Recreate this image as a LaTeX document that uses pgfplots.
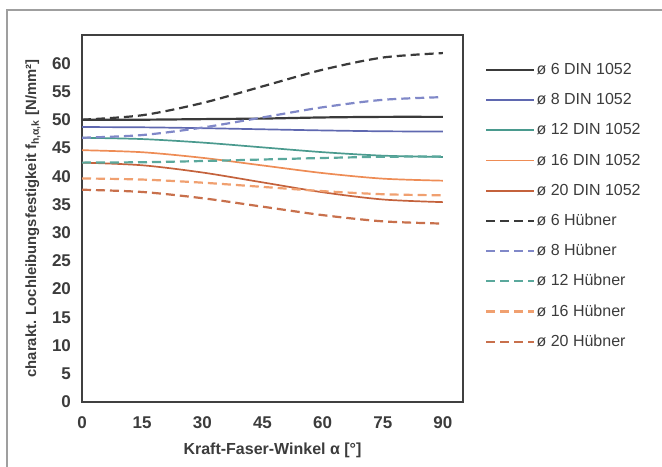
\documentclass[border=0pt]{standalone}
\usepackage{pgfplots}
\pgfplotsset{compat=1.18}
\usepackage{fontspec}
\setmainfont{Liberation Sans}
\definecolor{cblack}{HTML}{3A3A3A}
\definecolor{cblue}{HTML}{5F68B0}
\definecolor{cteal}{HTML}{4A9A8E}
\definecolor{corange}{HTML}{EE8C55}
\definecolor{cbrown}{HTML}{C4623C}
\definecolor{lblue}{HTML}{8088C8}
\definecolor{lteal}{HTML}{5AA89C}
\definecolor{lorange}{HTML}{F0A070}
\definecolor{lbrown}{HTML}{C8704C}
\definecolor{txt}{HTML}{3C3C3C}
\begin{document}
\begin{tikzpicture}
\useasboundingbox (0,0) rectangle (331pt,-233pt);
\draw[gray!75, line width=0.7pt] (3.5pt,-240pt) -- (3.5pt,-5pt) -- (340pt,-5pt);
\begin{axis}[
  at={(41pt,-201pt)}, anchor=south west,
  scale only axis, width=190.5pt, height=183.5pt,
  xmin=0, xmax=95, ymin=0, ymax=65,
  xtick={0,15,...,90}, ytick={0,5,...,60},
  major tick length=0pt,
  axis line style={draw=black!75, line width=1pt},
  tick label style={font=\fontsize{8.5}{9}\selectfont\bfseries, text=txt},
  xticklabel style={yshift=-4pt},
  yticklabel style={xshift=-2pt},
  /pgf/number format/assume math mode=true,
  xlabel={Kraft-Faser-Winkel α [°]},
  ylabel={charakt. Lochleibungsfestigkeit f\textsubscript{h,α,k} [N/mm²]},
  xlabel style={font=\fontsize{8}{9}\selectfont\bfseries, text=txt,
    at={(axis description cs:0.5,0)}, anchor=center, yshift=-24pt},
  ylabel style={font=\fontsize{7.4}{8}\selectfont\bfseries, text=txt,
    at={(axis description cs:0,0.5)}, anchor=center, yshift=24.5pt},
  legend cell align=left,
  legend style={draw=none, fill=none, at={(axis description cs:1,1)}, anchor=north west,
    xshift=10pt, yshift=-12pt, font=\fontsize{8}{9}\selectfont, text=txt,
    nodes={text height=6pt, text depth=1.5pt, inner sep=0.5pt},
    row sep=6.6pt, inner sep=1pt},
  legend image code/.code={\draw[#1] (0pt,0pt) -- (24pt,0pt);},
  every axis plot/.append style={smooth, no marks},
  sol/.style={line width=0.85pt},
  dsh/.style={line width=1.1pt, dash pattern=on 4.5pt off 2.5pt},
]
\addplot[cblack, sol, line width=1.1pt] coordinates {(0,50.0) (15,50.0) (30,50.1) (45,50.2) (60,50.4) (75,50.5) (90,50.5)};
\addlegendentry{ø 6 DIN 1052}
\addplot[cblue, sol] coordinates {(0,48.7) (15,48.65) (30,48.5) (45,48.3) (60,48.1) (75,47.95) (90,47.9)};
\addlegendentry{ø 8 DIN 1052}
\addplot[cteal, sol] coordinates {(0,46.8) (15,46.57) (30,45.95) (45,45.1) (60,44.25) (75,43.63) (90,43.4)};
\addlegendentry{ø 12 DIN 1052}
\addplot[corange, sol] coordinates {(0,44.6) (15,44.24) (30,43.25) (45,41.9) (60,40.55) (75,39.56) (90,39.2)};
\addlegendentry{ø 16 DIN 1052}
\addplot[cbrown, sol] coordinates {(0,42.4) (15,41.93) (30,40.65) (45,38.9) (60,37.15) (75,35.87) (90,35.4)};
\addlegendentry{ø 20 DIN 1052}
\addplot[cblack, dsh] coordinates {(0,50.0) (15,50.79) (30,52.95) (45,55.9) (60,58.85) (75,61.01) (90,61.8)};
\addlegendentry{ø 6 Hübner}
\addplot[lblue, dsh] coordinates {(0,46.8) (15,47.28) (30,48.6) (45,50.4) (60,52.2) (75,53.52) (90,54.0)};
\addlegendentry{ø 8 Hübner}
\addplot[lteal, dsh] coordinates {(0,42.4) (15,42.47) (30,42.68) (45,42.95) (60,43.22) (75,43.43) (90,43.5)};
\addlegendentry{ø 12 Hübner}
\addplot[lorange, dsh] coordinates {(0,39.6) (15,39.4) (30,38.85) (45,38.1) (60,37.35) (75,36.8) (90,36.6)};
\addlegendentry{ø 16 Hübner}
\addplot[lbrown, dsh] coordinates {(0,37.6) (15,37.2) (30,36.1) (45,34.6) (60,33.1) (75,32.0) (90,31.6)};
\addlegendentry{ø 20 Hübner}
\end{axis}
\end{tikzpicture}
\end{document}
